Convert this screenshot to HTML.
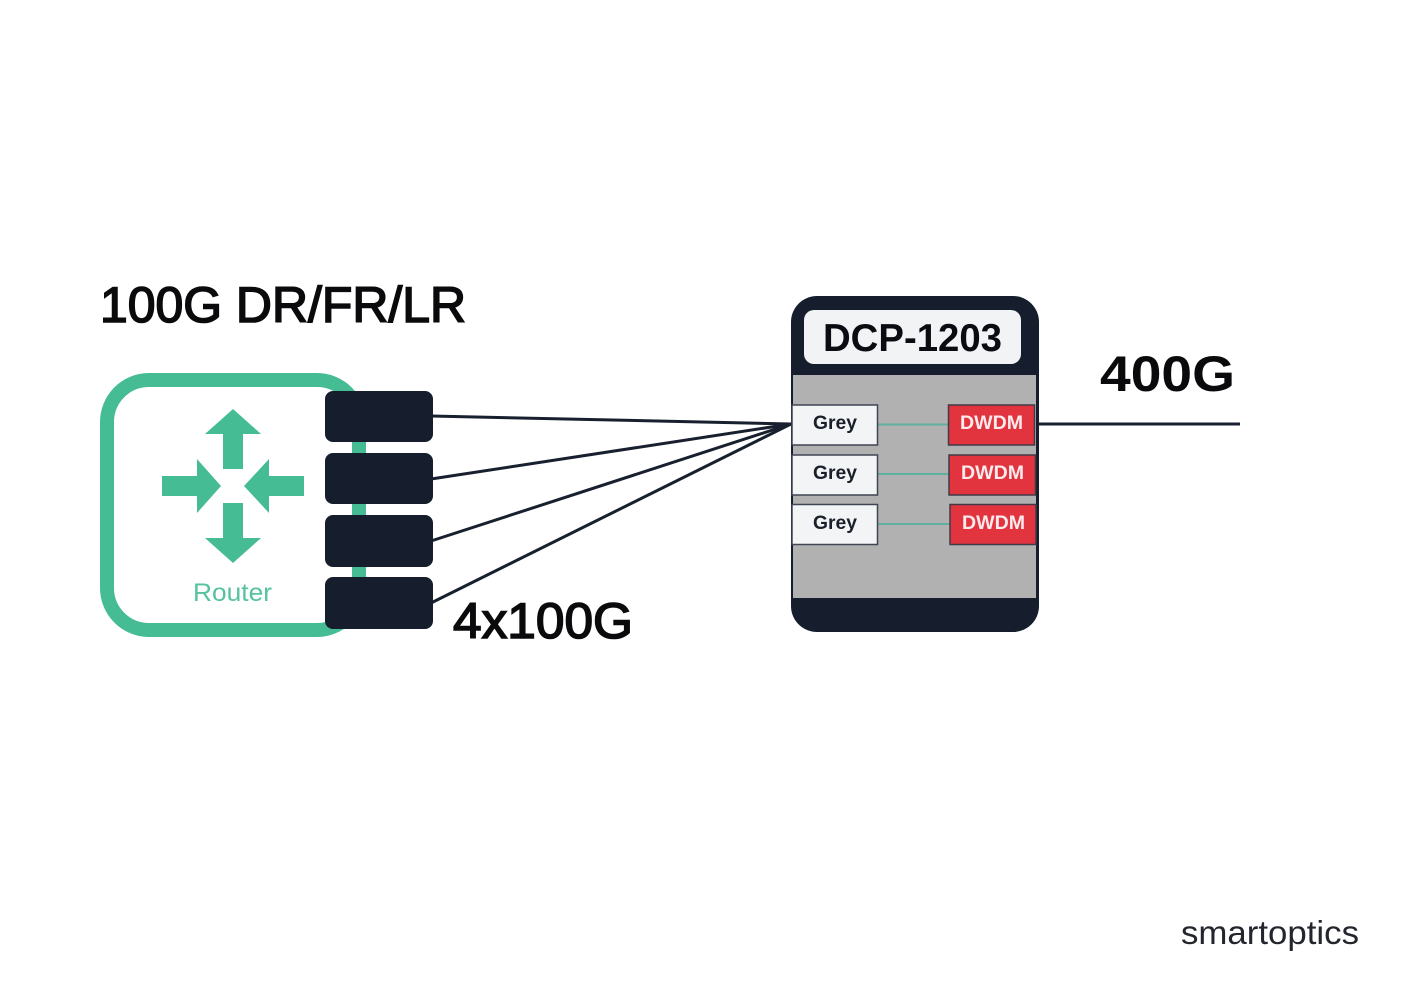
<!DOCTYPE html>
<html>
<head>
<meta charset="utf-8">
<style>
html,body{margin:0;padding:0;background:#fff;}
svg{display:block;}
text{font-family:"Liberation Sans",sans-serif;}
</style>
</head>
<body>
<svg width="1401" height="990" viewBox="0 0 1401 990" xmlns="http://www.w3.org/2000/svg">
<rect width="1401" height="990" fill="#fff"/>

<!-- Router -->
<rect x="107" y="380" width="252" height="250" rx="42" fill="#fff" stroke="#45bc93" stroke-width="14"/>
<g fill="#45bc93">
<polygon points="233,409 261,434 243,434 243,469 223,469 223,434 205,434"/>
<polygon points="233,563 261,538 243,538 243,503 223,503 223,538 205,538"/>
<polygon points="221,486 197,459 197,476 162,476 162,496 197,496 197,513"/>
<polygon points="244,486 269,459 269,476 304,476 304,496 269,496 269,513"/>
</g>
<text x="193" y="601" font-size="25" fill="#56c39d" textLength="79" lengthAdjust="spacingAndGlyphs">Router</text>

<!-- Connectors -->
<g stroke="#181f2e" stroke-width="3" fill="none">
<line x1="431" y1="416" x2="791" y2="424"/>
<line x1="431" y1="479" x2="791" y2="424"/>
<line x1="431" y1="541" x2="791" y2="424"/>
<line x1="431" y1="603" x2="791" y2="424"/>
<line x1="1037" y1="424" x2="1240" y2="424"/>
</g>

<!-- Ports -->
<g fill="#161d2c">
<rect x="325" y="391" width="108" height="51" rx="8"/>
<rect x="325" y="453" width="108" height="51" rx="8"/>
<rect x="325" y="515" width="108" height="52" rx="8"/>
<rect x="325" y="577" width="108" height="52" rx="8"/>
</g>

<!-- DCP -->
<rect x="791" y="296" width="248" height="336" rx="26" fill="#161d2c"/>
<rect x="793" y="375" width="243" height="223" fill="#b1b1b1"/>
<rect x="804" y="310" width="217" height="54" rx="10" fill="#f1f3f5"/>
<text x="823" y="351" font-size="39" font-weight="700" fill="#0a0c12" textLength="179" lengthAdjust="spacingAndGlyphs">DCP-1203</text>

<g stroke="#5fb0a0" stroke-width="2">
<line x1="878" y1="424.500" x2="949" y2="424.500"/>
<line x1="878" y1="474" x2="949" y2="474"/>
<line x1="878" y1="524" x2="950" y2="524"/>
</g>

<g fill="#f2f4f6" stroke="#3f4552" stroke-width="1.500">
<rect x="792" y="405" width="85.500" height="40"/>
<rect x="792" y="455" width="85.500" height="40"/>
<rect x="792" y="504.500" width="85.500" height="40"/>
</g>
<g font-size="19" font-weight="700" fill="#1a1f2a">
<text x="813" y="429" textLength="44" lengthAdjust="spacingAndGlyphs">Grey</text>
<text x="813" y="479" textLength="44" lengthAdjust="spacingAndGlyphs">Grey</text>
<text x="813" y="529" textLength="44" lengthAdjust="spacingAndGlyphs">Grey</text>
</g>

<g fill="#e2343f" stroke="#3f3a48" stroke-width="1.500">
<rect x="948.500" y="405" width="86" height="40"/>
<rect x="949" y="455" width="86.500" height="40"/>
<rect x="950" y="504.500" width="86" height="40"/>
</g>
<g font-size="19" font-weight="700" fill="#fbeaec">
<text x="960" y="429" textLength="63" lengthAdjust="spacingAndGlyphs">DWDM</text>
<text x="961" y="479" textLength="63" lengthAdjust="spacingAndGlyphs">DWDM</text>
<text x="962" y="529" textLength="63" lengthAdjust="spacingAndGlyphs">DWDM</text>
</g>

<!-- Titles -->
<text x="100" y="322" font-size="50" fill="#0a0a0c" stroke="#0a0a0c" stroke-width="1.600" textLength="366" lengthAdjust="spacingAndGlyphs">100G DR/FR/LR</text>
<text x="453" y="638" font-size="50" fill="#0a0a0c" stroke="#0a0a0c" stroke-width="1.600" textLength="180" lengthAdjust="spacingAndGlyphs">4x100G</text>
<text x="1100" y="391" font-size="50" font-weight="700" fill="#0a0a0c" textLength="135" lengthAdjust="spacingAndGlyphs">400G</text>

<!-- Logo -->
<text x="1181" y="944" font-size="33" fill="#23262d" textLength="178" lengthAdjust="spacingAndGlyphs">smartoptics</text>
</svg>
</body>
</html>
